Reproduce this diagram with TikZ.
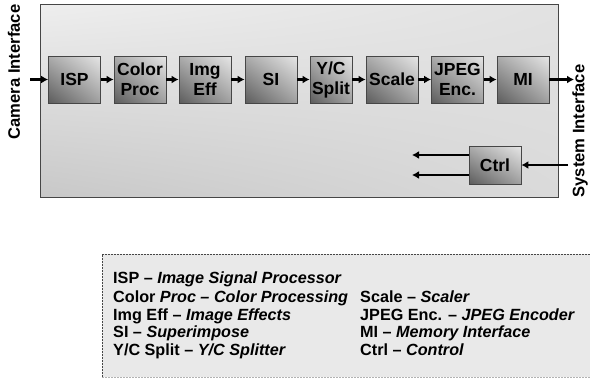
\documentclass[tikz,border=0pt]{standalone}
\usepackage{fontspec}
\setmainfont{Liberation Sans}
\usetikzlibrary{arrows.meta,shadings}

\definecolor{frameline}{RGB}{70,70,70}
\definecolor{blkUL}{RGB}{172,172,172}
\definecolor{blkUR}{RGB}{230,230,230}
\definecolor{blkLL}{RGB}{92,92,92}
\definecolor{blkLR}{RGB}{160,160,160}
\definecolor{panUL}{RGB}{238,238,238}
\definecolor{panUR}{RGB}{226,226,226}
\definecolor{panLL}{RGB}{200,200,200}
\definecolor{panLR}{RGB}{218,218,218}
\definecolor{legendfill}{RGB}{233,233,233}

\tikzset{
  block/.style={draw=frameline, line width=0.8pt, minimum width=52pt, minimum height=47pt,
    inner sep=0pt, align=center, font=\fontsize{17.5}{20}\selectfont\bfseries,
    shading=bilinear interpolation,
    lower left=blkLL, upper left=blkUL, upper right=blkUR, lower right=blkLR},
  flow/.style={line width=2.4pt, -{Latex[length=7pt,width=8pt]}},
  sidelabel/.style={rotate=90, font=\fontsize{16.6}{19}\selectfont\bfseries, inner sep=0pt},
  legendline/.style={anchor=base west, inner sep=0pt, font=\fontsize{16.2}{18}\selectfont\bfseries},
}

\begin{document}
\begin{tikzpicture}[x=1pt, y=-1pt]
\useasboundingbox (0,0) rectangle (590,378);

% main panel
\path[shading=bilinear interpolation,
  lower left=panLL, upper left=panUL, upper right=panUR, lower right=panLR]
  (40,4) rectangle (558,197);
\draw[frameline, line width=0.8pt] (40,4) rectangle (558,197);

% processing chain
\node[block] (isp)   at (74.5,79.5)  {ISP};
\node[block] (cp)    at (140,79.5)   {Color\\Proc};
\node[block] (ie)    at (205,79.5)   {Img\\Eff};
\node[block] (si)    at (271,79.5)   {SI};
\node[block, minimum width=42pt] (yc) at (331,79.5) {Y/C\\Split};
\node[block] (sc)    at (392,79.5)   {Scale};
\node[block] (jp)    at (457.5,79.5) {JPEG\\Enc.};
\node[block] (mi)    at (523,79.5)   {MI};
\node[block, minimum height=38pt] (ctrl) at (495,165) {Ctrl};

\coordinate (camin)  at (30,79.5);
\coordinate (sysout) at (574,79.5);
\coordinate (sysin)  at (568,165);
\coordinate (c1) at (412,155);
\coordinate (c2) at (412,175);

\draw[flow] (camin) -- (isp);
\draw[flow] (isp) -- (cp);
\draw[flow] (cp) -- (ie);
\draw[flow] (ie) -- (si);
\draw[flow] (si) -- (yc);
\draw[flow] (yc) -- (sc);
\draw[flow] (sc) -- (jp);
\draw[flow] (jp) -- (mi);
\draw[flow] (mi) -- (sysout);
\draw[flow] (sysin) -- (ctrl);
\draw[flow] (ctrl.west |- c1) -- (c1);
\draw[flow] (ctrl.west |- c2) -- (c2);

% interface labels
\node[sidelabel] (camlabel) at (14,72) {Camera Interface};
\node[sidelabel] (syslabel) at (580,131) {System Interface};

% legend
\fill[legendfill] (102,254) rectangle (590,377);
\draw[frameline, dashed, dash pattern=on 2pt off 1pt, line width=0.6pt] (590,254) -- (102,254) -- (102,377);
\draw[gray!60, dashed, dash pattern=on 2pt off 1pt, line width=0.6pt] (102,377) -- (590,377);

\node[legendline] (l1) at (113,283) {ISP – \textit{Image Signal Processor}};
\node[legendline] (l2) at (113,302) {Color \textit{Proc – Color Processing}};
\node[legendline] (l3) at (113,320) {Img Eff – \textit{Image Effects}};
\node[legendline] (l4) at (113,337) {SI – \textit{Superimpose}};
\node[legendline] (l5) at (113,355) {Y/C Split – \textit{Y/C Splitter}};
\node[legendline] (r2) at (360,302) {Scale – \textit{Scaler}};
\node[legendline] (r3) at (360,320) {JPEG Enc. – \textit{JPEG Encoder}};
\node[legendline] (r4) at (360,337) {MI – \textit{Memory Interface}};
\node[legendline] (r5) at (360,355) {Ctrl – \textit{Control}};
\end{tikzpicture}
\end{document}
